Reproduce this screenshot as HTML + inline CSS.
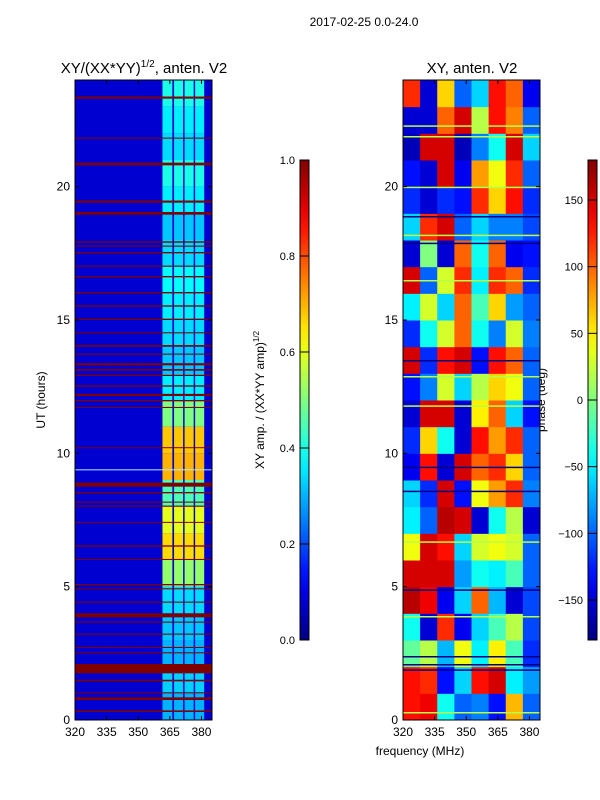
<!DOCTYPE html>
<html><head><meta charset="utf-8">
<style>
html,body{margin:0;padding:0;background:#fff;}
svg{display:block;font-family:"Liberation Sans","DejaVu Sans",sans-serif;}
</style></head>
<body>
<svg id="fig" width="600" height="800" viewBox="0 0 600 800" xmlns="http://www.w3.org/2000/svg">
<rect width="600" height="800" fill="#fff"/>
<text x="364" y="26" font-size="12" text-anchor="middle">2017-02-25 0.0-24.0</text>
<text x="144" y="73" font-size="15" text-anchor="middle">XY/(XX*YY)<tspan font-size="10" dy="-6">1/2</tspan><tspan dy="6">, anten. V2</tspan></text>
<text x="472" y="73" font-size="15" text-anchor="middle">XY, anten. V2</text>
<text x="45" y="400" font-size="12" text-anchor="middle" transform="rotate(-90 45 400)">UT (hours)</text>
<text x="420" y="755" font-size="12" text-anchor="middle">frequency (MHz)</text>
<text x="264" y="400" font-size="12" text-anchor="middle" transform="rotate(-90 264 400)">XY amp. / (XX*YY amp)<tspan font-size="8" dy="-5">1/2</tspan></text>
<text x="545" y="400" font-size="12" text-anchor="middle" transform="rotate(-90 545 400)">phase (deg)</text>
<defs>
<clipPath id="clipL"><rect x="75" y="80" width="137" height="640"/></clipPath>
<clipPath id="clipR"><rect x="403" y="80" width="137" height="640"/></clipPath>
<linearGradient id="jet" x1="0" y1="1" x2="0" y2="0"></linearGradient>
</defs>
<g id="leftMap" clip-path="url(#clipL)"></g>
<g id="rightMap" clip-path="url(#clipR)"></g>
<g id="axes"></g>
</svg>
<script>
// ---- data ----
const hourTicks = [0, 5, 10, 15, 20];
const freqTicks = [320, 335, 350, 365, 380];
const ampTicks = [0.0, 0.2, 0.4, 0.6, 0.8, 1.0];
const phaseTicks = [-150, -100, -50, 0, 50, 100, 150];
const ampBackground = 0.08;
// amplitude in bright band (361-382 MHz), per hour 0..23
const bandAmp = [0.3,0.33,0.3,0.32,0.34,0.52,0.66,0.6,0.45,0.7,0.68,0.5,0.36,0.32,0.34,0.36,0.38,0.34,0.32,0.36,0.4,0.34,0.36,0.4];
const bandStripes = [[361.5,366.2],[367,371.3],[372,376.3],[377,381.3]];
// dark red (flagged) rows: start hour, width in hours
const redRows = [[23.3,0.08],[21.8,0.04],[20.8,0.1],[19.4,0.08],[18.95,0.1],[17.9,0.05],[17.75,0.04],[17.5,0.05],[17.0,0.04],[16.6,0.05],[16.0,0.05],[15.5,0.05],[15.0,0.05],[14.5,0.04],[14.0,0.06],[13.7,0.04],[13.3,0.08],[13.1,0.06],[12.9,0.05],[12.5,0.05],[12.15,0.08],[11.95,0.05],[11.7,0.04],[10.2,0.03],[8.75,0.15],[8.5,0.05],[8.15,0.04],[8.0,0.04],[7.4,0.03],[6.5,0.05],[6.0,0.04],[5.05,0.05],[4.9,0.04],[4.4,0.04],[3.85,0.15],[3.65,0.04],[3.2,0.04],[2.7,0.04],[2.5,0.04],[1.75,0.35],[1.45,0.06],[1.0,0.04],[0.75,0.1],[0.3,0.06]];
// phase (deg) grid: rows hour 0..23, columns 8 frequency bins 320..385
const phaseGrid = [
[130,140,-40,-100,-90,-130,70,-100],
[130,120,-130,-60,130,150,-50,-80],
[-10,20,-70,40,-50,50,-20,-120],
[-40,-150,120,-140,-60,-20,20,-110],
[160,140,-140,-60,100,-70,-150,-110],
[150,150,150,-80,-40,-50,-20,-100],
[40,150,130,-60,30,40,30,-100],
[-50,-100,160,150,-150,-40,20,-150],
[-60,-120,150,-130,40,80,120,-90],
[-140,130,-150,150,100,120,60,-100],
[-120,60,-40,-150,130,80,120,-100],
[-150,150,150,-150,50,100,-60,-130],
[-130,-90,30,-60,20,60,40,-100],
[150,-120,130,150,-130,130,100,-100],
[-120,-40,30,100,-40,-90,30,-90],
[-50,30,-60,100,-20,60,-80,-100],
[150,-100,30,120,-50,120,100,-120],
[-150,0,-150,100,-40,100,-140,-130],
[-60,120,150,-100,-60,-90,-90,-110],
[-120,-150,-120,-130,120,60,130,-120],
[-130,-150,150,-140,80,40,120,-100],
[-160,150,150,-160,-90,-40,150,-60],
[-150,-150,100,150,20,130,90,-100],
[120,-150,60,-100,-60,130,100,-140]];
// thin stripes in phase panel: hour, phase value
const phaseStripes = [[22.3,20],[21.9,20],[20.0,20],[18.9,-180],[18.2,20],[17.9,-180],[16.5,20],[13.5,-180],[12.9,20],[11.8,20],[9.5,-180],[8.6,-180],[6.7,20],[4.9,-180],[3.9,20],[2.4,-180],[2.1,-180],[1.9,-180],[0.3,20]];

// ---- scales ----
const NS = "http://www.w3.org/2000/svg";
const fMin = 320, fMax = 385, hMax = 24;
const yH = h => 720 - h * (640 / hMax);
const xL = f => 75 + (f - fMin) * (137 / (fMax - fMin));
const xR = f => 403 + (f - fMin) * (137 / (fMax - fMin));
const cl = v => Math.max(0, Math.min(1, v));
function jet(x){x=cl(x);const r=cl(1.5-Math.abs(4*x-3)),g=cl(1.5-Math.abs(4*x-2)),b=cl(1.5-Math.abs(4*x-1));return `rgb(${Math.round(r*255)},${Math.round(g*255)},${Math.round(b*255)})`;}
const phaseNorm = p => (p + 180) / 360;
function mk(tag, attrs, parent){const e=document.createElementNS(NS,tag);for(const k in attrs)e.setAttribute(k,attrs[k]);parent.appendChild(e);return e;}

// gradient
const grad = document.getElementById('jet');
for(let i=0;i<=20;i++){mk('stop',{offset:(i/20),'stop-color':jet(i/20)},grad);}

// ---- left amplitude map ----
const L = document.getElementById('leftMap');
let bg = mk('rect',{x:75,y:80,width:137,height:640,fill:jet(ampBackground)},L);


bandAmp.forEach((v,h)=>{
  bandStripes.forEach(s=>{
    let r = mk('rect',{x:xL(s[0]),y:yH(h+1),width:xL(s[1])-xL(s[0]),height:yH(h)-yH(h+1),fill:jet(v)},L);
    
    
  });
});
redRows.forEach(rr=>{
  let r = mk('rect',{x:75,y:yH(rr[0]+rr[1]),width:137,height:Math.max(1,yH(rr[0])-yH(rr[0]+rr[1])),fill:jet(1)},L);
  
  
});
let wl = mk('rect',{x:75,y:yH(9.4),width:137,height:1,fill:'#aef'},L);



// ---- right phase map ----
const R = document.getElementById('rightMap');
const nb = phaseGrid[0].length, bw = (fMax - fMin) / nb;
phaseGrid.forEach((row,h)=>{
  row.forEach((p,j)=>{
    let r = mk('rect',{x:xR(fMin+j*bw),y:yH(h+1),width:xR(fMin+(j+1)*bw)-xR(fMin+j*bw)+0.5,height:yH(h)-yH(h+1)+0.5,fill:jet(phaseNorm(p))},R);
    
    
  });
});
phaseStripes.forEach(s=>{
  let r = mk('rect',{x:403,y:yH(s[0]),width:137,height:1.5,fill:jet(phaseNorm(s[1]))},R);
  
  
});

// ---- axes ----
const A = document.getElementById('axes');
[[75,xL,'left'],[403,xR,'right']].forEach(([x0,xs,nm])=>{
  let fr = mk('rect',{x:x0,y:80,width:137,height:640,fill:'none',stroke:'#000','stroke-width':1},A);
  
  
  hourTicks.forEach(h=>{
    mk('line',{x1:x0,x2:x0+4,y1:yH(h),y2:yH(h),stroke:'#000'},A);
    mk('line',{x1:x0+133,x2:x0+137,y1:yH(h),y2:yH(h),stroke:'#000'},A);
    let t = mk('text',{x:x0-5,y:yH(h)+4,'font-size':12,'text-anchor':'end'},A);
    t.textContent = h;
    
    
  });
  freqTicks.forEach(f=>{
    mk('line',{x1:xs(f),x2:xs(f),y1:720,y2:716,stroke:'#000'},A);
    mk('line',{x1:xs(f),x2:xs(f),y1:80,y2:84,stroke:'#000'},A);
    let t = mk('text',{x:xs(f),y:736,'font-size':12,'text-anchor':'middle'},A);
    t.textContent = f;
    
    
  });
});
// colorbars
function colorbar(x0, ticks, norm, fmt, nm){
  let r = mk('rect',{x:x0,y:160,width:9,height:480,fill:'url(#jet)',stroke:'#000','stroke-width':1},A);
  
  
  ticks.forEach(v=>{
    const y = 640 - norm(v)*480;
    mk('line',{x1:x0,x2:x0+9,y1:y,y2:y,stroke:'#000'},A);
    let t = mk('text',{x:x0-5,y:y+4,'font-size':11,'text-anchor':'end'},A);
    t.textContent = fmt(v);
    
    
  });
}
colorbar(300, ampTicks, v=>v, v=>v.toFixed(1), 'amp-colorbar');
colorbar(588, phaseTicks, phaseNorm, v=>v<0?'\u2212'+(-v):String(v), 'phase-colorbar');
</script>
</body></html>
